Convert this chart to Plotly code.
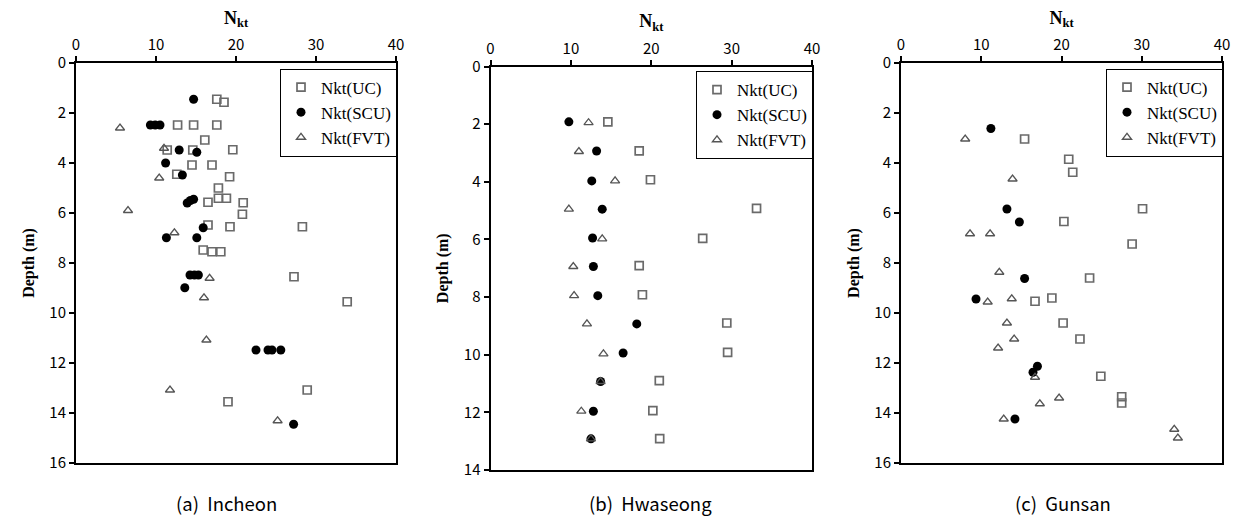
import plotly.graph_objects as go

# ---------------- Data ----------------
# (a) Incheon
inc_uc_nkt = [17.6, 18.5, 12.7, 14.7, 17.6, 16.1, 11.4, 14.6, 19.6, 14.5, 17.0, 12.6, 19.2, 17.8,
              16.5, 17.8, 18.8, 20.9, 20.8, 16.5, 19.25, 28.3, 15.9, 17.0, 18.1, 27.25, 33.9, 28.9, 19.0]
inc_uc_depth = [1.45, 1.57, 2.48, 2.48, 2.48, 3.08, 3.48, 3.48, 3.47, 4.08, 4.08, 4.45, 4.55, 5.0,
                5.57, 5.41, 5.41, 5.59, 6.05, 6.48, 6.55, 6.55, 7.48, 7.55, 7.55, 8.55, 9.55, 13.08, 13.55]
inc_scu_nkt = [14.7, 9.3, 9.9, 10.5, 12.9, 15.1, 11.2, 13.3, 13.9, 14.3, 14.7, 15.9, 11.3, 15.1,
               14.25, 14.8, 15.3, 13.6, 22.5, 24.0, 24.5, 25.6, 27.2]
inc_scu_depth = [1.45, 2.48, 2.48, 2.48, 3.48, 3.57, 4.0, 4.48, 5.6, 5.5, 5.45, 6.59, 6.99, 6.99,
                 8.48, 8.48, 8.48, 8.99, 11.48, 11.48, 11.48, 11.48, 14.45]
inc_fvt_nkt = [5.5, 11.0, 10.4, 6.5, 12.3, 16.7, 16.0, 16.3, 11.75, 25.2]
inc_fvt_depth = [2.6, 3.41, 4.6, 5.9, 6.79, 8.61, 9.39, 11.08, 13.08, 14.31]

# (b) Hwaseong
hwa_uc_nkt = [14.6, 18.5, 19.9, 33.1, 26.4, 18.5, 18.9, 29.4, 29.5, 21.0, 20.2, 21.05]
hwa_uc_depth = [1.92, 2.93, 3.93, 4.92, 5.96, 6.91, 7.92, 8.9, 9.92, 10.9, 11.94, 12.91]
hwa_scu_nkt = [9.75, 13.2, 12.6, 13.9, 12.7, 12.8, 13.35, 18.2, 16.5, 13.7, 12.8, 12.5]
hwa_scu_depth = [1.92, 2.93, 3.97, 4.95, 5.95, 6.94, 7.95, 8.93, 9.94, 10.93, 11.96, 12.92]
hwa_fvt_nkt = [12.2, 11.0, 15.5, 9.75, 13.9, 10.3, 10.4, 12.0, 14.05, 13.7, 11.3, 12.5]
hwa_fvt_depth = [1.95, 2.95, 3.97, 4.95, 5.98, 6.94, 7.95, 8.93, 9.97, 10.93, 11.96, 12.92]

# (c) Gunsan
gun_uc_nkt = [15.4, 20.9, 21.4, 30.1, 20.3, 28.8, 23.5, 18.8, 16.7, 20.2, 22.3, 24.9, 27.5, 27.5]
gun_uc_depth = [3.04, 3.85, 4.37, 5.83, 6.34, 7.24, 8.6, 9.4, 9.53, 10.4, 11.04, 12.53, 13.35, 13.6]
gun_scu_nkt = [11.2, 13.2, 14.75, 15.4, 9.35, 17.0, 16.45, 14.2]
gun_scu_depth = [2.62, 5.84, 6.36, 8.62, 9.44, 12.13, 12.37, 14.24]
gun_fvt_nkt = [8.0, 13.9, 8.6, 11.1, 12.25, 10.8, 13.8, 13.2, 14.1, 12.1, 16.7, 19.7, 17.3, 12.8, 34.05, 34.5]
gun_fvt_depth = [3.04, 4.64, 6.83, 6.83, 8.37, 9.56, 9.43, 10.4, 11.04, 11.4, 12.57, 13.4, 13.63, 14.24, 14.65, 15.0]

series_names = ["Nkt(UC)", "Nkt(SCU)", "Nkt(FVT)"]
captions = ["(a)  Incheon", "(b)  Hwaseong", "(c)  Gunsan"]
x_ticks = [0, 10, 20, 30, 40]
depth_max = [16, 14, 16]

panels = [
    [(inc_uc_nkt, inc_uc_depth), (inc_scu_nkt, inc_scu_depth), (inc_fvt_nkt, inc_fvt_depth)],
    [(hwa_uc_nkt, hwa_uc_depth), (hwa_scu_nkt, hwa_scu_depth), (hwa_fvt_nkt, hwa_fvt_depth)],
    [(gun_uc_nkt, gun_uc_depth), (gun_scu_nkt, gun_scu_depth), (gun_fvt_nkt, gun_fvt_depth)],
]

# ---------------- Layout geometry (pixels) ----------------
W, H = 1242, 521
boxes = [  # left, right, top, bottom
    (76, 396, 63, 463),
    (490.5, 812, 66.5, 470),
    (901, 1222, 63, 463),
]
legend_pos = [(280, 68.5), (696, 71), (1106, 68.5)]
caption_x = [226, 650, 1063]

marker_styles = [
    dict(symbol="square-open", size=8, color="#6a6a6a", line=dict(width=1.7, color="#6a6a6a")),
    dict(symbol="circle", size=9, color="black", line=dict(width=0)),
    dict(symbol="triangle-up-open", size=8, color="#555555", line=dict(width=1.3, color="#555555")),
]

fig = go.Figure()
SERIF = "Liberation Serif"
SANS = "Noto Sans CJK KR"

for i, panel in enumerate(panels):
    sfx = "" if i == 0 else str(i + 1)
    leg = "legend" + sfx
    for j, (xs, ys) in enumerate(panel):
        fig.add_trace(go.Scatter(
            x=xs, y=ys, mode="markers", name=series_names[j],
            marker=marker_styles[j], xaxis="x" + sfx, yaxis="y" + sfx,
            legend=leg, showlegend=True,
        ))
    l, r, t, b = boxes[i]
    fig.layout["xaxis" + sfx] = dict(
        domain=[l / W, r / W], anchor="y" + sfx, range=[0, 40], tickvals=x_ticks,
        side="top", showline=True, linecolor="black", linewidth=2, mirror=True,
        ticks="outside", ticklen=5, tickwidth=1.5, tickcolor="black",
        showgrid=False, zeroline=False, automargin=False,
        tickfont=dict(family=SANS, size=15, color="black"),
        title=dict(text="<b>N<sub>kt</sub></b>", font=dict(family=SERIF, size=18, color="black"), standoff=4),
    )
    fig.layout["yaxis" + sfx] = dict(
        domain=[1 - b / H, 1 - t / H], anchor="x" + sfx, range=[depth_max[i], 0], dtick=2,
        showline=True, linecolor="black", linewidth=2, mirror=True,
        ticks="outside", ticklen=5, tickwidth=1.5, tickcolor="black",
        showgrid=False, zeroline=False, automargin=False,
        tickfont=dict(family=SANS, size=15, color="black"),
        title=dict(text="<b>Depth (m)</b>", font=dict(family=SERIF, size=16, color="black"), standoff=11),
    )
    lx, ly = legend_pos[i]
    fig.layout[leg] = dict(
        x=lx / W, y=1 - ly / H, xanchor="left", yanchor="top",
        bordercolor="black", borderwidth=1, bgcolor="white",
        font=dict(family=SERIF, size=17, color="black"),
        itemwidth=30, tracegroupgap=0,
    )

annotations = []
for i, cap in enumerate(captions):
    annotations.append(dict(
        text=cap, x=caption_x[i] / W, y=1 - 503 / H, xref="paper", yref="paper",
        xanchor="center", yanchor="middle", showarrow=False,
        font=dict(family=SANS, size=18.5, color="black"),
    ))

fig.update_layout(
    width=W, height=H, margin=dict(l=0, r=0, t=0, b=0),
    paper_bgcolor="white", plot_bgcolor="white",
    annotations=annotations,
)

fig.write_html("out.html")
